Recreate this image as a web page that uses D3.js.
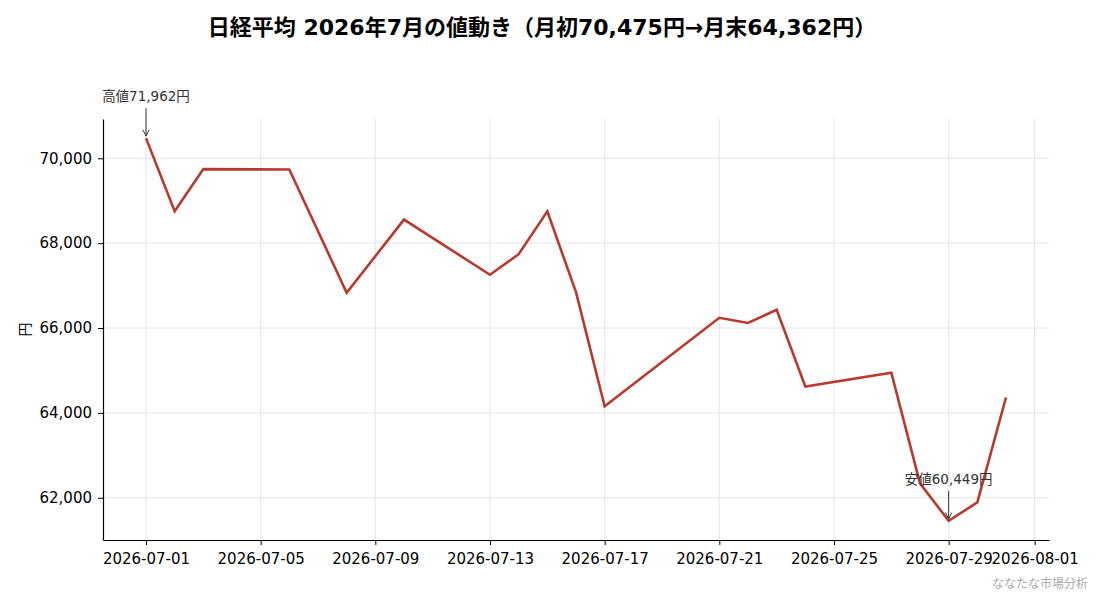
<!DOCTYPE html>
<html>
<head>
<meta charset="utf-8">
<script src="https://cdn.jsdelivr.net/npm/d3@7"></script>
<style>
  body { margin: 0; background: #fff; }
  svg text { font-family: "DejaVu Sans", "Noto Sans CJK JP", sans-serif; }
</style>
</head>
<body>
<svg id="chart"></svg>
<script>
// Data
const dates = ["2026-07-01", "2026-07-02", "2026-07-03", "2026-07-06", "2026-07-08",
  "2026-07-10", "2026-07-13", "2026-07-14", "2026-07-15", "2026-07-16", "2026-07-17",
  "2026-07-21", "2026-07-22", "2026-07-23", "2026-07-24", "2026-07-27", "2026-07-28",
  "2026-07-29", "2026-07-30", "2026-07-31"];
const closes = [70475, 68750, 69745, 69735, 66830,
  68555, 67255, 67740, 68750, 66845, 64155,
  66240, 66120, 66430, 64620, 64945, 62340,
  61455, 61890, 64362];
const xTickDates = ["2026-07-01", "2026-07-05", "2026-07-09", "2026-07-13", "2026-07-17",
  "2026-07-21", "2026-07-25", "2026-07-29", "2026-08-01"];
const yTicks = [62000, 64000, 66000, 68000, 70000];
const notes = [
  { date: "2026-07-01", value: 70475, label: "高値71,962円" },
  { date: "2026-07-29", value: 61455, label: "安値60,449円" }
];

const W = 1100, H = 594;
const margin = { top: 119, right: 51, bottom: 54, left: 103 };
const width = W - margin.left - margin.right;
const height = H - margin.top - margin.bottom;

const parse = d3.utcParse("%Y-%m-%d");
const data = dates.map((d, i) => ({ date: parse(d), value: closes[i] }));

const svg = d3.select("#chart")
    .attr("width", W)
    .attr("height", H);

const g = svg.append("g")
    .attr("transform", `translate(${margin.left},${margin.top})`);

// matplotlib-like 5% padding on both scales
const x0 = data[0].date, x1 = data[data.length - 1].date;
const padX = (x1 - x0) * 0.05;
const x = d3.scaleUtc()
    .domain([new Date(+x0 - padX), new Date(+x1 + padX)])
    .range([0, width]);

const yMin = d3.min(closes), yMax = d3.max(closes);
const padY = (yMax - yMin) * 0.05;
const y = d3.scaleLinear()
    .domain([yMin - padY, yMax + padY])
    .range([height, 0]);

const xTicks = xTickDates.map(parse);

// grid
g.append("g")
  .selectAll("line")
  .data(xTicks)
  .join("line")
    .attr("x1", d => x(d)).attr("x2", d => x(d))
    .attr("y1", 0).attr("y2", height)
    .attr("stroke", "#e6e6e6");
g.append("g")
  .selectAll("line")
  .data(yTicks)
  .join("line")
    .attr("x1", 0).attr("x2", width)
    .attr("y1", d => y(d)).attr("y2", d => y(d))
    .attr("stroke", "#e6e6e6");

// line
g.append("path")
    .datum(data)
    .attr("fill", "none")
    .attr("stroke", "#b83a2f")
    .attr("stroke-width", 2.6)
    .attr("stroke-linejoin", "miter")
    .attr("d", d3.line().x(d => x(d.date)).y(d => y(d.value)));

// axes
const xAxis = g.append("g")
    .attr("transform", `translate(0,${height})`)
    .call(d3.axisBottom(x).tickValues(xTicks).tickFormat(d3.utcFormat("%Y-%m-%d")).tickSize(5).tickSizeOuter(0));
const yAxis = g.append("g")
    .call(d3.axisLeft(y).tickValues(yTicks).tickFormat(d3.format(",")).tickSize(5).tickSizeOuter(0));

[xAxis, yAxis].forEach(a => {
  a.select(".domain").attr("stroke", "#000").attr("stroke-width", 1.2);
  a.selectAll(".tick line").attr("stroke", "#000");
  a.selectAll(".tick text").attr("fill", "#000").style("font-size", "15px");
});
xAxis.selectAll(".tick text").attr("dy", "1.05em");
yAxis.selectAll(".tick text").attr("dx", "-0.2em");

// y label
svg.append("text")
    .attr("transform", `translate(30,${margin.top + height / 2}) rotate(-90)`)
    .attr("text-anchor", "middle")
    .style("font-size", "14px")
    .text("円");

// annotations
svg.append("defs").append("marker")
    .attr("id", "arr")
    .attr("viewBox", "0 0 10 10")
    .attr("refX", 9).attr("refY", 5)
    .attr("markerWidth", 8).attr("markerHeight", 8)
    .attr("orient", "auto")
  .append("path")
    .attr("d", "M1,1 L9,5 L1,9")
    .attr("fill", "none")
    .attr("stroke", "#333")
    .attr("stroke-width", 1.2);

notes.forEach(n => {
  const px = x(parse(n.date)), py = y(n.value);
  g.append("line")
      .attr("x1", px).attr("x2", px)
      .attr("y1", py - 30).attr("y2", py - 2)
      .attr("stroke", "#333")
      .attr("marker-end", "url(#arr)");
  g.append("text")
      .attr("x", px)
      .attr("y", py - 37)
      .attr("text-anchor", "middle")
      .style("font-size", "13.5px")
      .attr("fill", "#333")
      .text(n.label);
});

// title
svg.append("text")
    .attr("x", 542)
    .attr("y", 35)
    .attr("text-anchor", "middle")
    .style("font-size", "22px")
    .style("font-weight", "bold")
    .text("日経平均 2026年7月の値動き（月初70,475円→月末64,362円）");

// watermark
svg.append("text")
    .attr("x", 1088)
    .attr("y", 588)
    .attr("text-anchor", "end")
    .style("font-size", "12px")
    .attr("fill", "#aaa")
    .text("ななたな市場分析");
</script>
</body>
</html>
